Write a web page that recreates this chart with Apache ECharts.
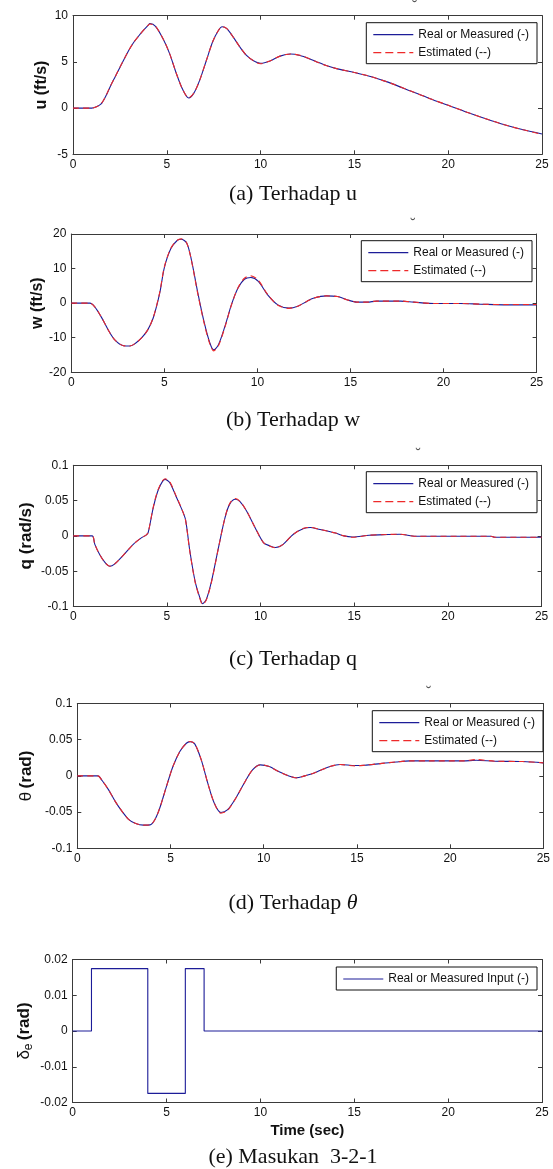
<!DOCTYPE html>
<html><head><meta charset="utf-8">
<script src="https://cdn.jsdelivr.net/npm/echarts@6/dist/echarts.min.js"></script>
<style>html,body{margin:0;padding:0;background:#fff}#c{width:553px;height:1169px}</style>
</head><body><div id="c"></div>
<script>
// ---------------- data ----------------
const xTicks = [0, 5, 10, 15, 20, 25];

const uTicks = [-5, 0, 5, 10];
const tU = [0,1,1.25,1.5,1.75, 2,2.25,2.5,2.75,3, 3.25,3.5,3.75,4,4.1, 4.4,4.8,5.15,5.5,5.85, 6.17,6.45,6.75,7.1,7.45, 7.75,7.95,8.2,8.55,8.9, 9.25,9.6,10,10.5,11, 11.6,12.1,12.6,13,13.5, 14,15,15.8,16.5,17, 18,19,20,21,22, 23,24,25];
const uMeas = [0,0,0.15,0.45,1.3, 2.4,3.4,4.4,5.4,6.35, 7.15,7.8,8.4,8.95,9.15, 8.85,7.5,5.9,3.8,2.0, 1.1,1.65,3.0,5.1,7.2, 8.4,8.8,8.6,7.65,6.6, 5.7,5.15,4.85,5.1,5.6, 5.85,5.7,5.35,5.0,4.6, 4.3,3.85,3.45,3.0,2.65, 1.85,1.05,0.3,-0.45,-1.15, -1.8,-2.35,-2.8];
const uEst  = [0,0,0.15,0.47,1.32, 2.42,3.4,4.42,5.4,6.35, 7.15,7.8,8.4,8.95,9.1, 8.85,7.5,5.9,3.8,2.0, 1.12,1.65,3.0,5.1,7.2, 8.4,8.82,8.6,7.65,6.6, 5.7,5.15,4.8,5.1,5.6, 5.85,5.72,5.35,5.0,4.6, 4.3,3.85,3.45,3.0,2.65, 1.85,1.05,0.3,-0.45,-1.15, -1.8,-2.35,-2.85];

const wTicks = [-20, -10, 0, 10, 20];
const tW = [0,1,1.25,1.6,2,2.35,2.8,3.15,3.45,3.8, 4.1,4.4,4.75,5.0,5.35, 5.7,5.9,6.2,6.45,6.8, 7.15,7.45,7.65,7.9,8.25, 8.6,8.95,9.3,9.65,10.05, 10.55,11.1,11.7,12.2,12.65, 13.0,13.7,14.3,14.8,15.35, 15.9,16.4,17.7,18.4,19.5, 20.9,22,23.4,25];
const wMeas = [0,0,-1.0,-3.9,-7.9,-10.7,-12.3,-12.4,-11.6,-9.9, -7.8,-4.3,2.9,10.3,15.8, 18.2,18.5,17.4,12.6,2.9, -5.8,-11.6,-13.5,-12.1,-6.8, -0.5,4.3,6.9,7.4,6.3, 2.4,-0.5,-1.45,-0.8,0.5, 1.4,2.1,1.9,1.0,0.3, 0.3,0.6,0.6,0.3,-0.1, -0.1,-0.3,-0.5,-0.5];
const wEst  = [0,0,-1.0,-3.9,-7.9,-10.7,-12.3,-12.4,-11.6,-9.9, -7.8,-4.2,3.1,10.5,15.9, 18.2,18.6,17.4,12.4,2.6, -6.1,-11.9,-13.8,-12.4,-7.0, -0.6,4.4,7.2,7.9,6.6, 2.5,-0.6,-1.5,-0.8,0.5, 1.4,2.1,1.9,1.0,0.3, 0.3,0.6,0.6,0.3,-0.1, -0.1,-0.3,-0.4,-0.4];

const qTicks = [-0.1, -0.05, 0, 0.05, 0.1];
const tQ = [0,1,1.15,1.4,1.7,1.95,2.2,2.65,3.2,3.65, 3.9,4.0,4.27,4.55,4.9, 5.15,5.5,5.85,6.0,6.22, 6.5,6.75,6.9,7.1,7.38, 7.75,8.1,8.35,8.65,8.9, 9.25,9.7,10.15,10.5,10.8, 11.2,11.75,12.3,12.65,13.1, 14.0,14.45,14.9,15.8,16.8, 17.4,18.3,20.5,22.3,22.5, 25];
const qMeas = [0,0,-0.012,-0.026,-0.038,-0.043,-0.040,-0.028,-0.012,-0.0025, 0.0015,0.005,0.040,0.066,0.080, 0.0755,0.055,0.034,0.022,-0.021, -0.064,-0.087,-0.096,-0.090,-0.064, -0.0165,0.026,0.045,0.052,0.0486, 0.0354,0.012,-0.0095,-0.0142,-0.0165, -0.012,0.0024,0.0104,0.0118,0.0095, 0.004,0.0,-0.0015,0.001,0.002, 0.0024,-0.0005,-0.0005,-0.0005,-0.002, -0.002];
const qEst  = [0,0,-0.012,-0.026,-0.038,-0.043,-0.040,-0.028,-0.012,-0.0025, 0.0015,0.005,0.041,0.067,0.081, 0.0765,0.056,0.034,0.021,-0.022, -0.065,-0.088,-0.097,-0.091,-0.065, -0.017,0.026,0.046,0.053,0.049, 0.0354,0.012,-0.0095,-0.0145,-0.0168, -0.012,0.0024,0.0108,0.012,0.0095, 0.004,0.0,-0.002,0.001,0.002, 0.0024,-0.0005,-0.0005,-0.0005,-0.002, -0.002];

const thTicks = [-0.1, -0.05, 0, 0.05, 0.1];
const tTh = [0,1.1,1.33,1.68,2.04,2.4,2.75,3.1,3.55,3.9, 4.15,4.42,4.78,5.13,5.5, 5.85,6.05,6.3,6.65,7.0, 7.35,7.7,8.05,8.5,8.95, 9.4,9.82,10.3,10.8,11.35, 11.75,12.2,12.55,13.05,13.6, 14.1,14.9,15.4,16.25,17.1, 17.85,18.9,20.7,21.4,22.4, 23.9,25];
const thMeas = [0,0,-0.0064,-0.0193,-0.0355,-0.049,-0.060,-0.0654,-0.068,-0.0677, -0.061,-0.0447,-0.0147,0.0129,0.0336, 0.0451,0.0474,0.0442,0.0221,-0.0101, -0.0378,-0.0506,-0.047,-0.0308,-0.0101, 0.0083,0.0152,0.0129,0.006,0.0, -0.0025,0.0,0.0025,0.0078,0.0134, 0.0157,0.0143,0.0147,0.017,0.0193, 0.0207,0.0207,0.0207,0.0216,0.0203, 0.0198,0.018];
const thEst  = [0,0,-0.0064,-0.0193,-0.0355,-0.049,-0.060,-0.0654,-0.068,-0.0677, -0.061,-0.0447,-0.0147,0.0129,0.0336, 0.0451,0.0476,0.0442,0.0221,-0.0101, -0.0378,-0.0515,-0.048,-0.0308,-0.0101, 0.0083,0.0155,0.0129,0.006,0.0, -0.0028,0.0,0.0025,0.0078,0.0134, 0.0157,0.0138,0.0147,0.017,0.0193, 0.0207,0.0207,0.0207,0.0226,0.0203, 0.0198,0.018];

const deTicks = [-0.02, -0.01, 0, 0.01, 0.02];
const tDe = [0, 1, 4, 6, 7, 25];
const deMeas = [0, 0.01745, -0.01745, 0.01745, 0, 0];

const captions = ['(a) Terhadap u', '(b) Terhadap w', '(c) Terhadap q', '(d) Terhadap {i|θ}', '(e) Masukan  3-2-1'];
const nameMeas = 'Real or Measured (-)';
const nameEst = 'Estimated (--)';
const nameInput = 'Real or Measured Input (-)';

// ---------------- layout / style ----------------
const FONT = '"Liberation Sans", Arial, sans-serif';
const AX = '#3a3a3a';
const BLUE = '#1c1c98';
const RED = '#ee2a2a';
const ICON_SOLID = 'path://M0,0H40V1.2H0Z';
const ICON_DASH = 'path://M0,0H8V1.2H0Z M12,0H20V1.2H12Z M24,0H32V1.2H24Z M36,0H40V1.2H36Z';

const panels = [
  {grid:[73, 15.7, 469, 138.6], t:tU, meas:uMeas, est:uEst, ticks:uTicks,
   yName:'{b|u (ft/s)}', nameGap:21, fs:16, legend:{right:16, top:22.7}, cap:194, mark:[414.5, 5]},
  {grid:[71.3, 234, 465.3, 138.3], t:tW, meas:wMeas, est:wEst, ticks:wTicks,
   yName:'{b|w (ft/s)}', nameGap:24, fs:16, legend:{right:21, top:240.7}, cap:420, mark:[412.7, 223]},
  {grid:[73.3, 465.3, 468.3, 141.2], t:tQ, meas:qMeas, est:qEst, ticks:qTicks,
   yName:'{b|q (rad/s)}', nameGap:36, fs:17, legend:{right:16, top:471.7}, cap:659.5, mark:[418, 453]},
  {grid:[77.3, 703.5, 470.5, 144.8], t:tTh, meas:thMeas, est:thEst, ticks:thTicks,
   yName:'{g|θ} {b|(rad)}', nameGap:40, fs:17, legend:{right:10, top:710.7}, cap:903.5, mark:[428.6, 691]},
  {grid:[72.7, 959.5, 469.3, 143], t:tDe, meas:deMeas, est:null, ticks:deTicks,
   yName:'{g|δ}{s|e} {b|(rad)}', nameGap:38, fs:17, legend:{right:16, top:967}, cap:1157,
   xName:'Time (sec)', step:true}
];

function richName(fs) {
  return {
    b:{fontFamily:FONT, fontWeight:'bold', fontSize:fs, color:'#111', lineHeight:fs+4},
    g:{fontFamily:FONT, fontWeight:'normal', fontSize:fs, color:'#111', lineHeight:fs+4},
    s:{fontFamily:FONT, fontWeight:'normal', fontSize:fs-5, color:'#111', lineHeight:fs-5, verticalAlign:'bottom'}
  };
}

const option = {animation:false, backgroundColor:'#fff', grid:[], xAxis:[], yAxis:[], series:[], legend:[], graphic:[]};

panels.forEach((p, i) => {
  option.grid.push({left:p.grid[0], top:p.grid[1], width:p.grid[2], height:p.grid[3], show:false});
  const xr = {min:xTicks[0], max:xTicks[xTicks.length-1], interval:xTicks[1]-xTicks[0]};
  const yr = {min:p.ticks[0], max:p.ticks[p.ticks.length-1], interval:+(p.ticks[1]-p.ticks[0]).toFixed(6)};
  const line = {onZero:false, lineStyle:{color:AX, width:1}};
  const tick = {inside:true, length:4, lineStyle:{color:AX, width:1}};
  const lbl = {fontFamily:FONT, fontSize:12, color:'#111', margin:5};
  const bx = Object.assign({gridIndex:i, type:'value', position:'bottom', axisLine:line, axisTick:tick,
    axisLabel:Object.assign({}, lbl, {margin:4}), splitLine:{show:false}}, xr);
  if (p.xName) {
    bx.name = p.xName; bx.nameLocation = 'middle'; bx.nameGap = 21; bx.nameMoveOverlap = false;
    bx.nameTextStyle = {fontFamily:FONT, fontWeight:'bold', fontSize:15, color:'#111'};
  }
  option.xAxis.push(bx);
  option.xAxis.push(Object.assign({gridIndex:i, type:'value', position:'top', axisLine:line, axisTick:tick,
    axisLabel:{show:false}, splitLine:{show:false}}, xr));
  option.yAxis.push(Object.assign({gridIndex:i, type:'value', position:'left', axisLine:line, axisTick:tick,
    axisLabel:lbl, splitLine:{show:false},
    name:p.yName, nameLocation:'middle', nameGap:p.nameGap, nameRotate:90, nameMoveOverlap:false,
    nameTextStyle:{rich:richName(p.fs)}}, yr));
  option.yAxis.push(Object.assign({gridIndex:i, type:'value', position:'right', axisLine:line, axisTick:tick,
    axisLabel:{show:false}, splitLine:{show:false}}, yr));

  const xa = 2*i, ya = 2*i;
  option.series.push({
    type:'line', name: p.step ? nameInput : nameMeas, xAxisIndex:xa, yAxisIndex:ya,
    data:p.t.map((t,k)=>[t, p.meas[k]]), symbol:'none', showSymbol:false,
    smooth: p.step ? false : 0.3, step: p.step ? 'end' : false,
    lineStyle:{color:BLUE, width:1.1}, itemStyle:{color:BLUE}, z:2, silent:true
  });
  if (p.est) {
    option.series.push({
      type:'line', name:nameEst, xAxisIndex:xa, yAxisIndex:ya,
      data:p.t.map((t,k)=>[t, p.est[k]]), symbol:'none', showSymbol:false, smooth:0.3,
      lineStyle:{color:RED, width:1.1, type:[6,4]}, itemStyle:{color:RED}, z:3, silent:true
    });
  }
  option.legend.push({
    orient:'vertical', right:p.legend.right, top:p.legend.top,
    data: p.est ? [{name:nameMeas, icon:ICON_SOLID}, {name:nameEst, icon:ICON_DASH}]
                : [{name:nameInput, icon:ICON_SOLID}],
    itemWidth:40, itemHeight:1.2, itemGap:6, padding:[6,8,5,7], symbolKeepAspect:false,
    itemStyle:{borderWidth:0}, lineStyle:{width:0},
    borderColor:'#111', borderWidth:1, backgroundColor:'#fff', borderRadius:0,
    textStyle:{fontFamily:FONT, fontSize:12, color:'#111'}, selectedMode:false, z:10
  });
  option.graphic.push({
    type:'text', x:293, y:p.cap, silent:true,
    style:{text:captions[i], fontFamily:'"Liberation Serif", serif', fontSize:22,
      fill:'#111', align:'center', verticalAlign:'middle', textAlign:'center', textVerticalAlign:'middle',
      rich:{i:{fontFamily:'"Liberation Serif", serif', fontSize:22, fontStyle:'italic', fill:'#111'}}}
  });
  if (p.mark) {
    option.graphic.push({
      type:'text', x:p.mark[0], y:p.mark[1] + 3, silent:true,
      style:{text:'˘', fontFamily:'"DejaVu Sans", sans-serif', fontSize:15, fill:'#555',
        align:'center', verticalAlign:'middle', textAlign:'center', textVerticalAlign:'middle'}
    });
  }
});

const chart = echarts.init(document.getElementById('c'), null, {renderer:'canvas'});
chart.setOption(option);
</script>
</body></html>
